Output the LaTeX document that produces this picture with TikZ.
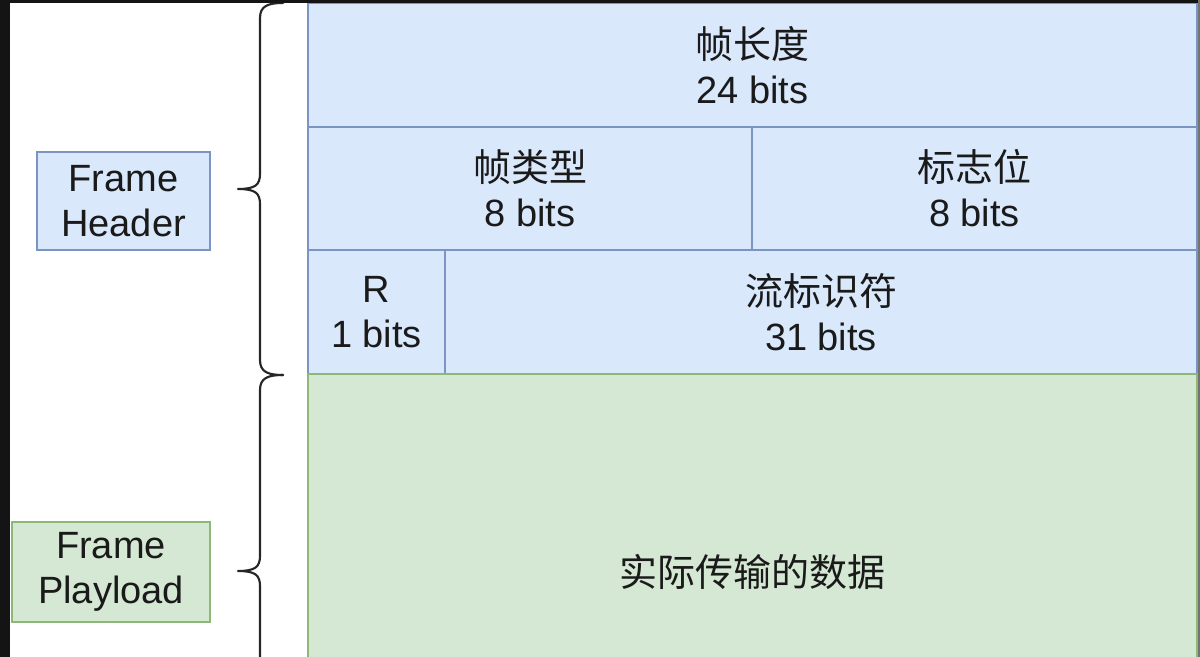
\documentclass[tikz,border=0pt]{standalone}
\usepackage{fontspec}
\setmainfont{Liberation Sans}
\newfontfamily\cjk{Noto Sans CJK SC}
\definecolor{bfill}{HTML}{DAE8FC}
\definecolor{bline}{HTML}{7A95C2}
\definecolor{gfill}{HTML}{D5E8D4}
\definecolor{gline}{HTML}{8DB877}
\definecolor{txt}{HTML}{1A1A1A}
\tikzset{
  cellb/.style={draw=bline, fill=bfill, line width=1.2pt, inner sep=0pt, align=center, text=txt,
    font=\fontsize{28.5}{33.75}\selectfont},
  cellg/.style={draw=gline, fill=gfill, line width=1.2pt, inner sep=0pt, align=center, text=txt,
    font=\fontsize{28.5}{33.75}\selectfont},
  bracestyle/.style={draw=black!85, line width=1.6pt, line cap=round, line join=round}
}
\begin{document}
\begin{tikzpicture}[x=0.75pt, y=-0.75pt]
\useasboundingbox (0,0) rectangle (1200,657);
\fill[white] (0,0) rectangle (1200,657);
\begin{scope}
\clip (0,0) rectangle (1200,657);
% header cells
\node[cellb, minimum width=666.75pt, minimum height=93pt] (len) at (752.5,65) {{\cjk 帧长度}\\24 bits};
\node[cellb, minimum width=333pt, minimum height=92.25pt] (type) at (530,188.5) {{\cjk 帧类型}\\8 bits};
\node[cellb, minimum width=333.75pt, minimum height=92.25pt] (flags) at (974.5,188.5) {{\cjk 标志位}\\8 bits};
\node[cellb, minimum width=102.75pt, minimum height=93pt] (r) at (376.5,312) {R\\1 bits};
\node[cellb, minimum width=564pt, minimum height=93pt] (sid) at (821,312) {{\cjk 流标识符}\\31 bits};
% payload
\node[cellg, minimum width=666.75pt, minimum height=297pt] (data) at (752.5,572) {{\cjk 实际传输的数据}};
% braces
\draw[bracestyle] (283,3) .. controls (268,3) and (260,6) .. (260,18) -- (260,174)
  .. controls (260,185) and (255,189) .. (238,189)
  .. controls (255,189) and (260,193) .. (260,204) -- (260,360)
  .. controls (260,372) and (268,375) .. (283,375);
\draw[bracestyle] (283,375) .. controls (268,375) and (260,378) .. (260,390) -- (260,556)
  .. controls (260,567) and (255,571) .. (238,571)
  .. controls (255,571) and (260,575) .. (260,586) -- (260,752)
  .. controls (260,764) and (268,767) .. (283,767);
% side labels
\node[cellb, minimum width=129.75pt, minimum height=73.5pt] (hdr) at (123.5,201) {Frame\\Header};
\node[cellg, minimum width=148.5pt, minimum height=75pt] (pl) at (111,572) {Frame\\Playload};
% screenshot frame
\fill[black!92] (0,0) rectangle (10,657);
\fill[black!92] (0,0) rectangle (1200,3);
\fill[black!55] (1197.5,0) rectangle (1200,657);
\end{scope}
\end{tikzpicture}
\end{document}
